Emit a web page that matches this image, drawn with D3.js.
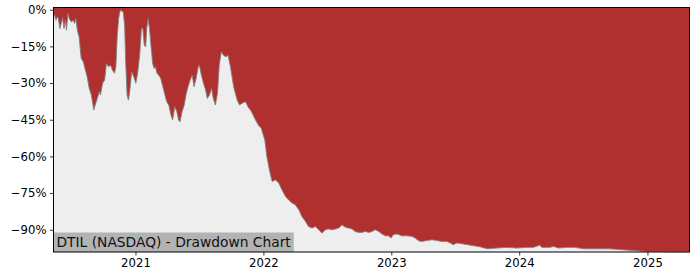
<!DOCTYPE html>
<html>
<head>
<meta charset="utf-8">
<script src="https://cdn.jsdelivr.net/npm/d3@7"></script>
<style>
  body { margin: 0; background: #fff; }
  svg text { font-family: "DejaVu Sans", sans-serif; }
</style>
</head>
<body>
<div id="chart"></div>
<script>
// drawdown series (percent below the running peak)
var dates = [
  "2020-05-12","2020-05-15","2020-05-19","2020-05-23","2020-05-26","2020-05-30","2020-06-03","2020-06-07",
  "2020-06-11","2020-06-15","2020-06-18","2020-06-22","2020-06-26","2020-07-02","2020-07-07","2020-07-11",
  "2020-07-15","2020-07-19","2020-07-24","2020-07-30","2020-08-05","2020-08-11","2020-08-16","2020-08-22",
  "2020-08-28","2020-08-31","2020-09-04","2020-09-08","2020-09-14","2020-09-20","2020-09-23","2020-09-29",
  "2020-10-05","2020-10-10","2020-10-16","2020-10-22","2020-10-27","2020-11-02","2020-11-06","2020-11-10",
  "2020-11-14","2020-11-17","2020-11-21","2020-11-23","2020-11-27","2020-12-01","2020-12-04","2020-12-08",
  "2020-12-12","2020-12-16","2020-12-21","2020-12-27","2021-01-02","2021-01-07","2021-01-13","2021-01-18",
  "2021-01-22","2021-01-26","2021-01-30","2021-02-02","2021-02-06","2021-02-10","2021-02-14","2021-02-19",
  "2021-02-23","2021-02-27","2021-03-03","2021-03-08","2021-03-14","2021-03-20","2021-03-26","2021-03-31",
  "2021-04-06","2021-04-12","2021-04-17","2021-04-23","2021-04-29","2021-05-04","2021-05-08","2021-05-14",
  "2021-05-20","2021-05-26","2021-05-31","2021-06-06","2021-06-12","2021-06-17","2021-06-23","2021-06-29",
  "2021-07-02","2021-07-08","2021-07-14","2021-07-20","2021-07-25","2021-07-31","2021-08-06","2021-08-11",
  "2021-08-17","2021-08-23","2021-08-28","2021-09-03","2021-09-09","2021-09-16","2021-09-22","2021-09-29",
  "2021-10-08","2021-10-18","2021-10-25","2021-11-01","2021-11-11","2021-11-18","2021-11-28","2021-12-07",
  "2021-12-17","2021-12-26","2022-01-05","2022-01-11","2022-01-18","2022-01-26","2022-02-04","2022-02-14",
  "2022-02-23","2022-03-05","2022-03-14","2022-03-24","2022-04-02","2022-04-12","2022-04-21","2022-05-01",
  "2022-05-10","2022-05-20","2022-05-29","2022-06-08","2022-06-17","2022-06-27","2022-07-06","2022-07-16",
  "2022-07-25","2022-08-04","2022-08-13","2022-08-23","2022-09-01","2022-09-11","2022-09-20","2022-09-30",
  "2022-10-09","2022-10-19","2022-10-28","2022-11-07","2022-11-16","2022-11-26","2022-12-05","2022-12-15",
  "2022-12-24","2022-12-31","2023-01-07","2023-01-17","2023-01-31","2023-02-15","2023-03-01","2023-03-10",
  "2023-03-20","2023-03-29","2023-04-13","2023-04-27","2023-05-11","2023-05-25","2023-06-09","2023-06-18",
  "2023-06-27","2023-07-07","2023-07-17","2023-08-14","2023-09-12","2023-10-01","2023-10-29","2023-11-27",
  "2023-12-26","2024-01-23","2024-02-11","2024-02-28","2024-03-06","2024-03-29","2024-04-08","2024-04-22",
  "2024-05-16","2024-06-08","2024-07-02","2024-08-19","2024-09-16","2024-10-24","2024-12-01","2024-12-30",
  "2025-01-27","2025-03-06","2025-04-13","2025-05-01"
];
var drawdown = [
  -2.2,-2.2,-4.3,-2.9,-3.6,-7.7,-5.6,-3.3,
  -7.7,-4.3,-8.4,-1.6,-3.6,-5.0,-4.3,-5.6,
  -3.6,-8.4,-11.1,-19.9,-21.3,-24.7,-27.4,-32.2,
  -34.9,-37.6,-41.0,-39.0,-36.3,-33.5,-34.9,-30.1,
  -28.8,-22.0,-23.3,-22.7,-24.7,-26.0,-23.3,-10.4,
  -3.6,-0.9,0.0,-0.6,-0.9,-6.3,-21.3,-34.9,
  -37.0,-32.8,-25.4,-27.4,-30.1,-26.0,-18.5,-7.7,
  -7.7,-14.5,-15.2,-7.7,-3.6,-7.7,-14.5,-22.0,
  -24.0,-23.3,-26.0,-26.7,-28.1,-31.5,-34.9,-37.6,
  -39.0,-43.0,-45.1,-39.7,-41.7,-45.1,-45.8,-41.7,
  -39.0,-34.2,-31.5,-28.8,-26.7,-31.5,-28.1,-23.3,
  -22.7,-26.7,-30.1,-32.8,-36.3,-34.9,-32.2,-36.3,
  -39.0,-34.2,-22.7,-17.2,-18.6,-19.3,-18.6,-23.3,
  -31.5,-36.9,-39.0,-38.3,-37.6,-39.7,-41.7,-44.4,
  -47.1,-48.5,-53.3,-60.1,-65.5,-70.3,-69.6,-70.9,
  -73.7,-76.4,-77.8,-79.1,-79.8,-81.8,-84.6,-86.6,
  -88.7,-89.3,-88.7,-90.0,-91.4,-90.0,-89.7,-90.0,
  -89.7,-89.3,-88.0,-89.0,-89.3,-89.7,-90.7,-91.1,
  -91.1,-90.7,-91.1,-90.7,-90.0,-90.7,-91.7,-92.5,
  -92.5,-93.4,-92.0,-91.7,-92.5,-92.5,-92.7,-93.4,
  -94.5,-94.8,-94.4,-94.1,-94.4,-94.8,-94.8,-95.4,
  -96.1,-95.4,-95.6,-96.3,-97.0,-97.8,-97.5,-97.2,
  -97.5,-97.2,-97.2,-96.3,-97.2,-97.2,-96.8,-97.5,
  -97.2,-97.2,-97.8,-97.8,-97.8,-98.2,-98.6,-98.9,
  -98.9,-99.0,-99.0,-99.0
];
var yTicks = [0, -15, -30, -45, -60, -75, -90];
var xTicks = ["2021-01-01", "2022-01-01", "2023-01-01", "2024-01-01", "2025-01-01"];
var chartTitle = "DTIL (NASDAQ) - Drawdown Chart";

var parseDate = d3.timeParse("%Y-%m-%d");
var data = dates.map(function (d, i) { return { date: parseDate(d), dd: drawdown[i] }; });

var totalW = 700, totalH = 280;
var margin = { top: 7.5, right: 10.5, bottom: 28, left: 53.5 };
var width = totalW - margin.left - margin.right,
    height = totalH - margin.top - margin.bottom;

var svg = d3.select("#chart").append("svg")
    .attr("width", totalW).attr("height", totalH);
var g = svg.append("g").attr("transform", "translate(" + margin.left + "," + margin.top + ")");

var x = d3.scaleTime().domain(d3.extent(data, function (d) { return d.date; })).range([0, width]);
var y = d3.scaleLinear().domain([-99.1, 0.9]).range([height, 0]);

// plot background (below the curve)
g.append("rect").attr("width", width).attr("height", height).attr("fill", "#eeeeee");

// red area from the curve up to the top
var area = d3.area()
    .x(function (d) { return x(d.date); })
    .y0(0)
    .y1(function (d) { return y(d.dd); });
g.append("path").datum(data).attr("d", area).attr("fill", "#b03030");

var line = d3.line()
    .x(function (d) { return x(d.date); })
    .y(function (d) { return y(d.dd); });
g.append("path").datum(data).attr("d", line)
    .attr("fill", "none").attr("stroke", "#808080").attr("stroke-width", 0.9);

// title box at bottom left
var label = g.append("g");
var lbBox = label.append("rect").attr("fill", "#b3b3b3");
var lbText = label.append("text")
    .attr("x", 3).attr("y", height - 5.5)
    .attr("font-size", "13.8px").attr("fill", "#111")
    .text(chartTitle);
var tw = lbText.node().getComputedTextLength();
lbBox.attr("x", 0).attr("y", height - 19.5).attr("width", tw + 6).attr("height", 19.5);

// axes
var yAxis = d3.axisLeft(y).tickValues(yTicks).tickSize(3.5).tickPadding(3.5)
    .tickFormat(function (d) { return d === 0 ? "0%" : "\u2212" + Math.abs(d) + "%"; });
var xAxis = d3.axisBottom(x).tickValues(xTicks.map(parseDate)).tickSize(3.5).tickPadding(3.5)
    .tickFormat(d3.timeFormat("%Y"));

var ya = g.append("g").call(yAxis);
var xa = g.append("g").attr("transform", "translate(0," + height + ")").call(xAxis);
[ya, xa].forEach(function (a) {
  a.select(".domain").remove();
  a.selectAll("text").attr("font-size", "11.7px").attr("fill", "#000")
      .style("font-family", "'DejaVu Sans', sans-serif");
  a.selectAll("line").attr("stroke", "#000").attr("stroke-width", 0.8);
});

// frame
g.append("rect").attr("width", width).attr("height", height)
    .attr("fill", "none").attr("stroke", "#000").attr("stroke-width", 1);
</script>
</body>
</html>
